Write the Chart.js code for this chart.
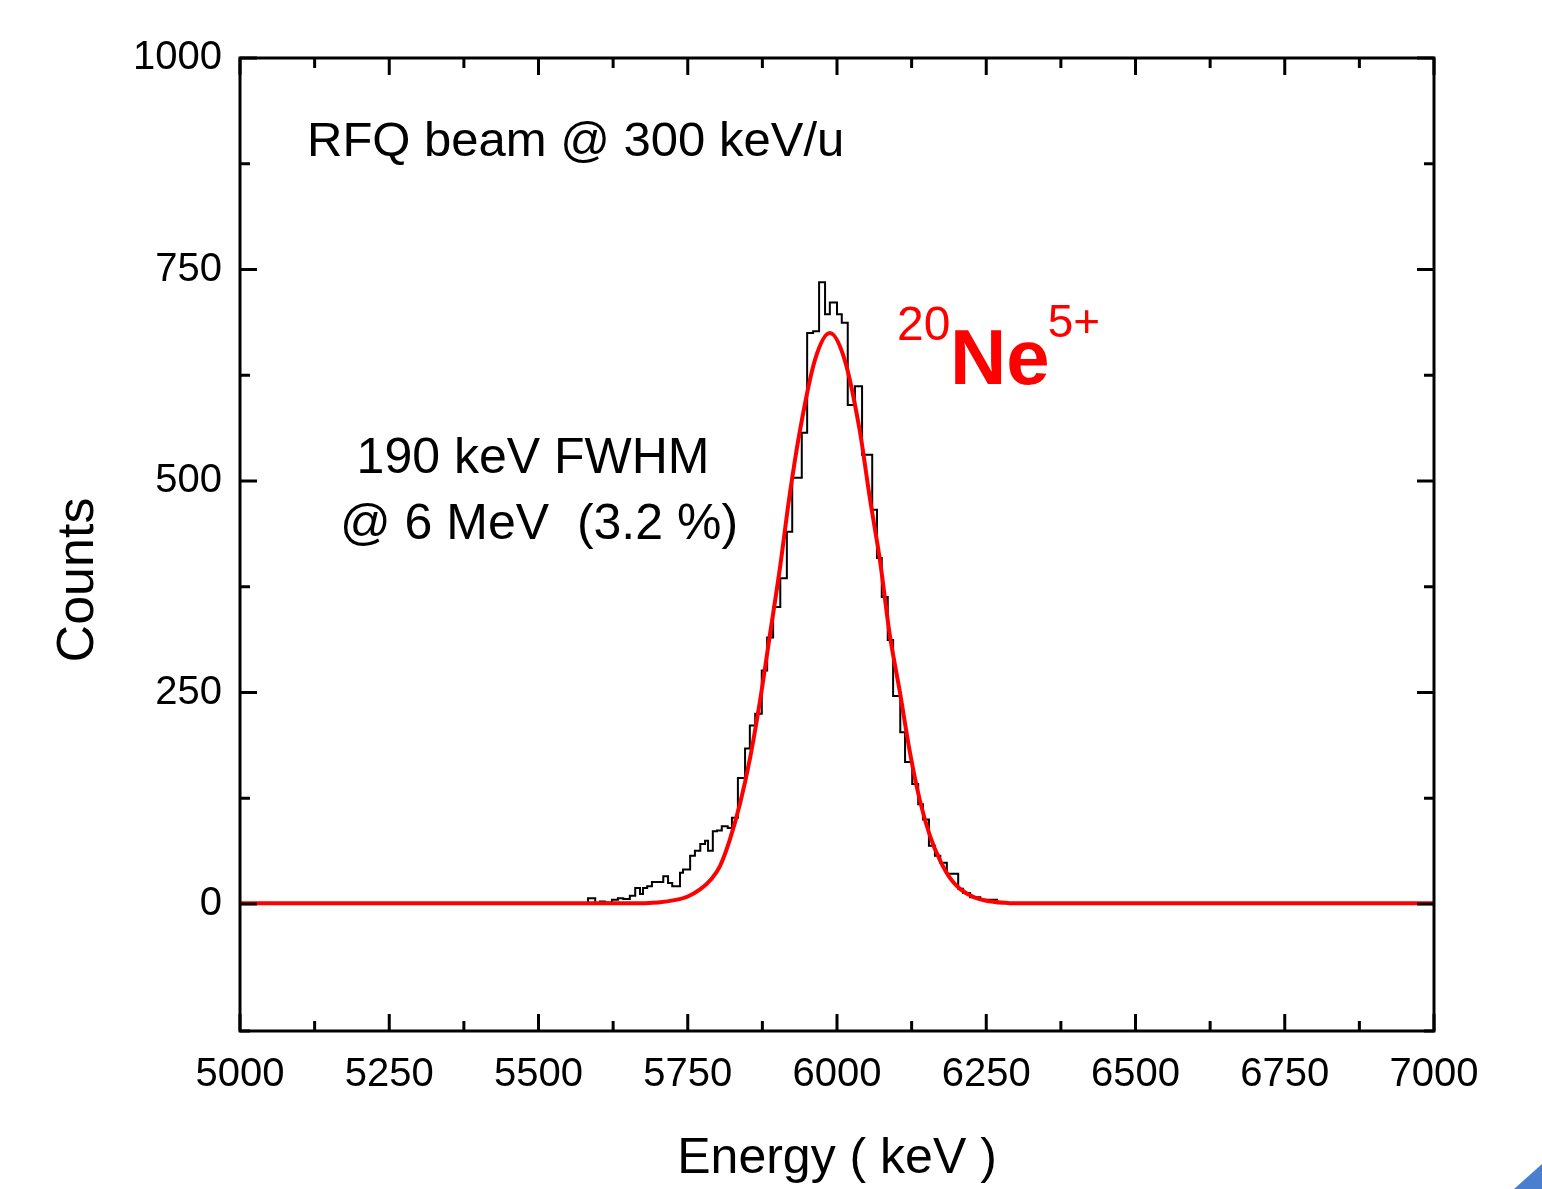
<!DOCTYPE html>
<html>
<head>
<meta charset="utf-8">
<script src="https://cdn.jsdelivr.net/npm/chart.js@4.4.0/dist/chart.umd.min.js"></script>
<style>
  html, body { margin: 0; padding: 0; background: #fff; }
  #wrap { position: relative; width: 1542px; height: 1189px; }
  #corner { position: absolute; right: 0; bottom: 0; width: 28px; height: 25px;
            background: #4a7fd0; clip-path: polygon(100% 0, 100% 100%, 0 100%); }
</style>
</head>
<body>
<div id="wrap">
  <canvas id="spectrum" width="1542" height="1189"></canvas>
  <div id="corner"></div>
</div>
<script>
// measured spectrum, bin left edges (keV) and counts
var histEnergy = [5000, 5583, 5595, 5603, 5611, 5623, 5633, 5642, 5653, 5662, 5670, 5675, 5682, 5690,
    5709, 5717, 5724, 5737, 5742, 5754, 5762, 5771, 5779, 5784, 5792, 5799, 5807, 5817, 5824,
    5834, 5846, 5854, 5863, 5874, 5883, 5893, 5905, 5916, 5925, 5941, 5950, 5960, 5970, 5980,
    5988, 6000, 6008, 6018, 6030, 6042, 6059, 6067, 6075, 6085, 6094, 6106, 6114, 6126, 6136,
    6144, 6154, 6164, 6173, 6184, 6193, 6203, 6211, 6223, 6240, 6268, 6307, 7000];
var histCounts = [0, 7, 1, 3, 2, 5, 7, 6, 10, 19, 12, 19, 21, 26,
    33, 25, 21, 37, 41, 57, 63, 71, 75, 63, 86, 87, 92, 90, 102,
    149, 184, 211, 225, 276, 315, 351, 385, 440, 504, 557, 675, 677, 735, 697,
    711, 697, 687, 590, 612, 531, 466, 409, 363, 312, 246, 203, 168, 142, 118,
    100, 69, 57, 49, 36, 36, 18, 13, 8, 5, 1, 0, 0];

// gaussian fit curve
var fitEnergy = [5000, 5500, 5650, 5700, 5730, 5750, 5770, 5790, 5804, 5820, 5838, 5855, 5871, 5888,
    5905, 5920, 5938, 5963, 5988, 6013, 6038, 6055, 6072, 6088, 6105, 6122, 6139, 6156, 6173,
    6190, 6206, 6230, 6250, 6275, 6300, 7000];
var fitCounts = [1, 1, 1, 2, 5, 9, 17, 30, 45, 75, 120, 175, 240, 320,
    400, 480, 560, 643, 675, 643, 560, 480, 406, 320, 252, 180, 122, 80, 51,
    30, 18, 8, 4, 2, 1, 1];

var xMin = 5000, xMax = 7000, xStep = 125;
var yMin = -150, yMax = 1000, yStep = 125;

var FONT = '"Liberation Sans", Arial, sans-serif';

function pts(xs, ys) {
    return xs.map(function (v, i) { return { x: v, y: ys[i] }; });
}

// closed frame with inward ticks on all four sides
var frameTicks = {
    id: 'frameTicks',
    afterDatasetsDraw: function (chart) {
        var ctx = chart.ctx, a = chart.chartArea;
        var xs = chart.scales.x, ys = chart.scales.y;
        ctx.save();
        ctx.strokeStyle = '#000';
        ctx.lineWidth = 3;
        ctx.beginPath();
        xs.ticks.forEach(function (t) {
            var px = xs.getPixelForValue(t.value);
            var len = t.value % 250 === 0 ? 17 : 10;
            ctx.moveTo(px, a.bottom); ctx.lineTo(px, a.bottom - len);
            ctx.moveTo(px, a.top); ctx.lineTo(px, a.top + len);
        });
        ys.ticks.forEach(function (t) {
            var py = ys.getPixelForValue(t.value);
            var len = t.value % 250 === 0 ? 17 : 10;
            ctx.moveTo(a.left, py); ctx.lineTo(a.left + len, py);
            ctx.moveTo(a.right, py); ctx.lineTo(a.right - len, py);
        });
        ctx.stroke();
        ctx.strokeRect(a.left, a.top, a.right - a.left, a.bottom - a.top);
        ctx.restore();
    },
    afterDraw: function (chart) {
        var ctx = chart.ctx;
        ctx.save();
        ctx.fillStyle = '#000';
        ctx.textBaseline = 'alphabetic';
        ctx.font = '49px ' + FONT;
        ctx.textAlign = 'left';
        ctx.fillText('RFQ beam @ 300 keV/u', 307, 156);
        ctx.font = '50px ' + FONT;
        ctx.textAlign = 'center';
        ctx.fillText('190 keV FWHM', 533, 473);
        ctx.fillText('@ 6 MeV  (3.2 %)', 539, 539);

        ctx.fillStyle = '#ff0000';
        ctx.textAlign = 'left';
        ctx.font = '48px ' + FONT;
        ctx.fillText('20', 897, 340);
        ctx.font = 'bold 78px ' + FONT;
        ctx.fillText('Ne', 950, 384);
        var w = ctx.measureText('Ne').width;
        ctx.font = '46px ' + FONT;
        ctx.fillText('5+', 948 + w, 337);

        ctx.fillStyle = '#000';
        ctx.font = '52px ' + FONT;
        ctx.translate(93, 580);
        ctx.rotate(-Math.PI / 2);
        ctx.textAlign = 'center';
        ctx.fillText('Counts', 0, 0);
        ctx.restore();
    }
};

var ctx = document.getElementById('spectrum').getContext('2d');
var myChart = new Chart(ctx, {
    type: 'line',
    data: {
        datasets: [{
            label: 'Fit',
            data: pts(fitEnergy, fitCounts),
            borderColor: '#ff0000',
            borderWidth: 4,
            pointRadius: 0,
            fill: false,
            cubicInterpolationMode: 'monotone',
            order: 0
        }, {
            label: 'Counts',
            data: pts(histEnergy, histCounts),
            borderColor: '#000',
            borderWidth: 2,
            pointRadius: 0,
            fill: false,
            stepped: true,
            order: 1
        }]
    },
    options: {
        responsive: false,
        animation: false,
        layout: { padding: { top: 58, right: 108, left: 0, bottom: 0 } },
        plugins: {
            legend: { display: false },
            tooltip: { enabled: false },
            title: { display: false }
        },
        scales: {
            x: {
                type: 'linear',
                min: xMin,
                max: xMax,
                grid: { display: false, drawTicks: false },
                border: { display: false },
                afterFit: function (s) { s.height = 158; },
                ticks: {
                    stepSize: xStep,
                    autoSkip: false,
                    maxRotation: 0,
                    padding: 20,
                    color: '#000',
                    font: { family: FONT, size: 40 },
                    callback: function (v) { return v % 250 === 0 ? String(v) : ''; }
                },
                title: {
                    display: true,
                    text: 'Energy ( keV )',
                    color: '#000',
                    font: { family: FONT, size: 50, lineHeight: 1.2 },
                    padding: 0
                }
            },
            y: {
                type: 'linear',
                min: yMin,
                max: yMax,
                grid: { display: false, drawTicks: false },
                border: { display: false },
                afterFit: function (s) { s.width = 240; },
                ticks: {
                    stepSize: yStep,
                    autoSkip: false,
                    padding: 18,
                    color: '#000',
                    font: { family: FONT, size: 40 },
                    callback: function (v) { return v % 250 === 0 ? String(v) : ''; }
                }
            }
        }
    },
    plugins: [frameTicks]
});
</script>
</body>
</html>
